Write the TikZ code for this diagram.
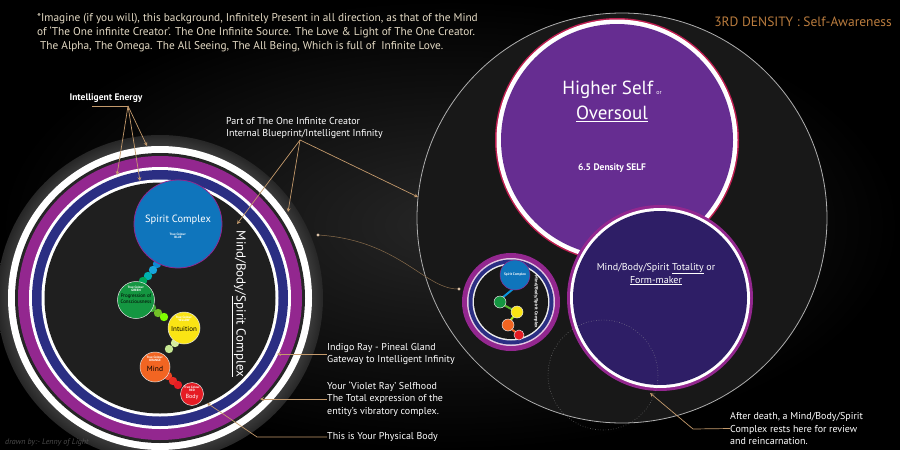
\documentclass[tikz,border=0pt]{standalone}
\usepackage{fontspec}
\setmainfont{PT Sans}
\usetikzlibrary{positioning}
\definecolor{bgmid}{RGB}{38,38,38}
\definecolor{bgcore}{RGB}{24,24,24}
\definecolor{glowgray}{RGB}{66,66,66}
\definecolor{ringgray}{RGB}{175,175,175}
\definecolor{tanline}{RGB}{196,154,108}
\definecolor{beige}{RGB}{228,218,196}
\definecolor{density}{RGB}{186,124,62}
\definecolor{violetband}{RGB}{147,39,143}
\definecolor{navyband}{RGB}{43,46,131}
\definecolor{hspurple}{RGB}{102,45,145}
\definecolor{hsred}{RGB}{190,30,80}
\definecolor{totfill}{RGB}{46,30,102}
\definecolor{spiritblue}{RGB}{15,117,188}
\definecolor{greenc}{RGB}{20,150,65}
\definecolor{yellowc}{RGB}{250,228,20}
\definecolor{orangec}{RGB}{242,101,34}
\definecolor{redc}{RGB}{230,28,36}
\pgfdeclareradialshading{ringglow}{\pgfpoint{0bp}{0bp}}{color(0bp)=(glowgray); color(22.5bp)=(glowgray); color(25bp)=(bgmid); color(50bp)=(bgmid)}
\tikzset{
  lbl/.style={text=white, font=\fontsize{10}{12.5}\selectfont, align=left, inner sep=0pt, anchor=west},
  pointer/.style={draw=tanline, line width=0.7pt, ->},
  leader/.style={draw=tanline, line width=0.7pt},
  chakra/.style={circle, draw=white!80!gray, line width=0.5pt, inner sep=0pt, align=center},
  tinytxt/.style={font=\bfseries\fontsize{3.2}{3.6}\selectfont},
}
\begin{document}
\begin{tikzpicture}[x=1pt, y=-1pt, >=stealth]
    % --- Background ---
    \useasboundingbox (0,0) rectangle (900,450);
    \shade[inner color=bgmid, outer color=black] (0,0) rectangle (900,450);

    % --- Top text ---
    \node[text=beige, font=\fontsize{11.3}{14}\selectfont, align=left, inner sep=0pt, anchor=north west] (intro) at (37,13)
      {*Imagine (if you will), this background, Infinitely Present in all direction, as that of the Mind\\
       of `The One infinite Creator'. The One Infinite Source. The Love \& Light of The One Creator.\\
       \ The Alpha, The Omega. The All Seeing, The All Being, Which is full of \ Infinite Love.};
    \node[text=density, font=\fontsize{13.5}{15}\selectfont, anchor=east, inner sep=0pt] (dens) at (892,22) {3RD DENSITY : Self-Awareness};

    % --- Big outer circle (right) ---
    \coordinate (outer) at (622,218);
    \filldraw[fill=bgcore, draw=ringgray, line width=0.8pt] (outer) circle[radius=205];

    % --- Higher Self ---
    \coordinate (hs) at (617,140);
    \fill[hsred] (hs) circle[radius=122];
    \fill[white] (hs) circle[radius=120.5];
    \fill[hspurple] (hs) circle[radius=116];
    \node[text=white, font=\fontsize{19}{21}\selectfont] (hstitle) at (612,90) {Higher Self\,{\fontsize{6}{6}\selectfont or}};
    \node[text=white, font=\fontsize{19}{21}\selectfont] (oversoul) at (612,114) {\underline{Oversoul}};
    \node[text=white, font=\bfseries\fontsize{9.5}{11}\selectfont] (hsdens) at (612,168) {6.5 Density SELF};

    % --- Totality / Form-maker ---
    \coordinate (tot) at (660,298);
    \fill[violetband] (tot) circle[radius=93];
    \fill[white] (tot) circle[radius=90];
    \fill[totfill] (tot) circle[radius=87];
    \node[text=white, font=\fontsize{10}{13}\selectfont, align=center] (totlbl) at (656,274)
      {Mind/Body/Spirit \underline{Totality} or\\\underline{Form-maker}};
    \draw[white!30!gray, dotted, line width=0.6pt, opacity=0.6] (603,375) circle[radius=55];

    % --- Small Mind/Body/Spirit Complex ---
    \coordinate (mini) at (511,302);
    \fill[violetband] (mini) circle[radius=49];
    \fill[white!75!violetband] (mini) circle[radius=44];
    \fill[navyband] (mini) circle[radius=42.5];
    \fill[white!85!gray] (mini) circle[radius=38.5];
    \fill[bgcore] (mini) circle[radius=37];
    \draw[cyan!80!blue, line width=2pt] (513,289) -- (502,298);
    \draw[greenc!70!yellow, line width=2pt] (502,304) -- (515,311);
    \draw[yellowc!70!green, line width=2pt] (514,316) -- (509,322);
    \draw[orangec, line width=2pt] (510,328) -- (518,334);
    \node[chakra, fill=spiritblue, draw=violetband, minimum size=30pt, font=\bfseries\fontsize{3.5}{4}\selectfont, text=white] (minispirit) at (515,275) {Spirit Complex};
    \node[chakra, fill=greenc, minimum size=12pt] (minigreen) at (500,302) {};
    \node[chakra, fill=yellowc, minimum size=12pt] (miniyellow) at (517,312) {};
    \node[chakra, fill=orangec, minimum size=12pt] (miniorange) at (508,325) {};
    \node[chakra, fill=redc, minimum size=10pt] (minired) at (519,335) {};
    \node[rotate=-90, text=white, font=\bfseries\fontsize{4.6}{5}\selectfont] (minilbl) at (536,302) {Mind/Body/Spirit Complex};

    % --- Left: Mind/Body/Spirit Complex ---
    \coordinate (mbs) at (160,298);
    \shade[shading=ringglow] (mbs) circle[radius=163];
    \fill[white] (mbs) circle[radius=152];
    \fill[black!85] (mbs) circle[radius=145];
    \fill[violetband] (mbs) circle[radius=142];
    \fill[white] (mbs) circle[radius=131];
    \fill[navyband] (mbs) circle[radius=128];
    \fill[white] (mbs) circle[radius=118.5];
    \fill[black!88] (mbs) circle[radius=115.5];

    % beads between the centres
    \foreach \bx/\by/\bc in {157/264/cyan!70!blue, 153/270/cyan!80!teal, 148/276/teal!60!cyan, 143/281/teal!70!green,
                             152/308/greenc!80!yellow, 158/313/greenc!60!yellow, 164/317/green!50!yellow,
                             175/343/yellow!60!green!40!white, 169/349/yellow!50!green!45!white,
                             168/376/orangec!60!redc, 173/381/redc!80!orangec, 178/385/redc}
      \fill[\bc] (\bx,\by) circle[radius=4.2];

    \node[chakra, fill=spiritblue, draw=violetband, line width=0.8pt, minimum size=88pt] (spirit) at (178,224) {};
    \node[text=white, font=\fontsize{10.5}{12}\selectfont] (spiritlbl) at (178,220) {Spirit Complex};
    \node[text=white, tinytxt, align=center, below=1pt of spiritlbl] (spiritcol) {True Colour:\\BLUE};

    \node[chakra, fill=greenc, minimum size=37pt] (green) at (136,300) {};
    \node[text=white, tinytxt, align=center] (greencol) at (136,289) {True Colour:\\GREEN};
    \node[text=black, font=\fontsize{5}{6}\selectfont, align=center] (greenlbl) at (136,299) {Progression of\\Consciousness};

    \node[chakra, fill=yellowc, minimum size=32pt] (yellow) at (184,328) {};
    \node[text=white, tinytxt, align=center] (yellowcol) at (184,319) {True Colour:\\YELLOW};
    \node[text=black, font=\fontsize{7}{8}\selectfont] (yellowlbl) at (184,329) {Intuition};

    \node[chakra, fill=orangec, minimum size=30pt] (orange) at (155,367) {};
    \node[text=white, tinytxt, align=center] (orangecol) at (155,359) {True Colour:\\ORANGE};
    \node[text=black, font=\fontsize{7.5}{8}\selectfont] (orangelbl) at (155,369) {Mind};

    \node[chakra, fill=redc, minimum size=23pt] (red) at (192,394) {};
    \node[text=white, tinytxt, align=center] (redcol) at (192,389) {True Colour\\RED};
    \node[text=white, font=\fontsize{6}{7}\selectfont] (redlbl) at (192,397) {Body};

    \node[rotate=-90, text=white, font=\fontsize{13}{14}\selectfont] (mbslbl) at (239,304) {Mind/Body/\underline{Spirit Complex}};

    % --- Connector to the small complex ---
    \coordinate (linkA) at (318,235);
    \coordinate (linkB) at (459,289);
    \draw[tanline!70!black, line width=0.5pt] (linkA) .. controls (400,240) and (425,290) .. (linkB);
    \fill[tanline!60!white] (linkA) circle[radius=1.6];
    \fill[tanline!60!white] (linkB) circle[radius=1.6];

    % --- Labels and pointers ---
    \node[text=white, font=\bfseries\fontsize{9.5}{11}\selectfont, inner sep=0pt] (energy) at (106,98) {Intelligent Energy};
    \coordinate (efork) at (128,106);
    \coordinate (etipA) at (117,175);
    \coordinate (etipB) at (140,181);
    \coordinate (etipC) at (147,146);
    \draw[leader] (efork) -- ++(-36,0);
    \draw[pointer] (efork) -- (etipA);
    \draw[pointer] (efork) -- (etipB);
    \draw[pointer] (efork) -- (etipC);

    \node[lbl] (blueprint) at (226,128) {Part of The One Infinite Creator\\Internal Blueprint/Intelligent Infinity};
    \coordinate (bfork) at (300,140);
    \coordinate (btipA) at (237,224);
    \coordinate (btipB) at (288,212);
    \coordinate (btipC) at (418,197);
    \draw[pointer] (bfork) -- (btipA);
    \draw[pointer] (bfork) -- (btipB);
    \draw[pointer] (bfork) -- (btipC);

    \node[lbl] (indigo) at (327,354) {Indigo Ray - Pineal Gland\\Gateway to Intelligent Infinity};
    \coordinate (itip) at (277,354);
    \draw[pointer] (indigo.west) -- (itip);

    \node[lbl] (violet) at (327,399) {Your `Violet Ray' Selfhood\\The Total expression of the\\entity's vibratory complex.};
    \coordinate (vtip) at (260,399);
    \draw[pointer] (violet.west) -- (vtip);

    \node[lbl] (physical) at (327,437) {This is Your Physical Body};
    \coordinate (pbend) at (257,437);
    \coordinate (ptip) at (207,403);
    \draw[pointer] (physical.west) -- (pbend) -- (ptip);

    \node[lbl] (death) at (730,428.5) {After death, a Mind/Body/Spirit\\Complex rests here for review\\and reincarnation.};
    \coordinate (dbend) at (693,429);
    \coordinate (dtip) at (650,393);
    \draw[pointer] (death.west) -- (dbend) -- (dtip);

    % --- Signature ---
    \node[text=gray!60!black, font=\itshape\fontsize{8}{9}\selectfont, anchor=west, inner sep=0pt] (sign) at (5,442) {drawn by:- Lenny of Light};
\end{tikzpicture}
\end{document}
